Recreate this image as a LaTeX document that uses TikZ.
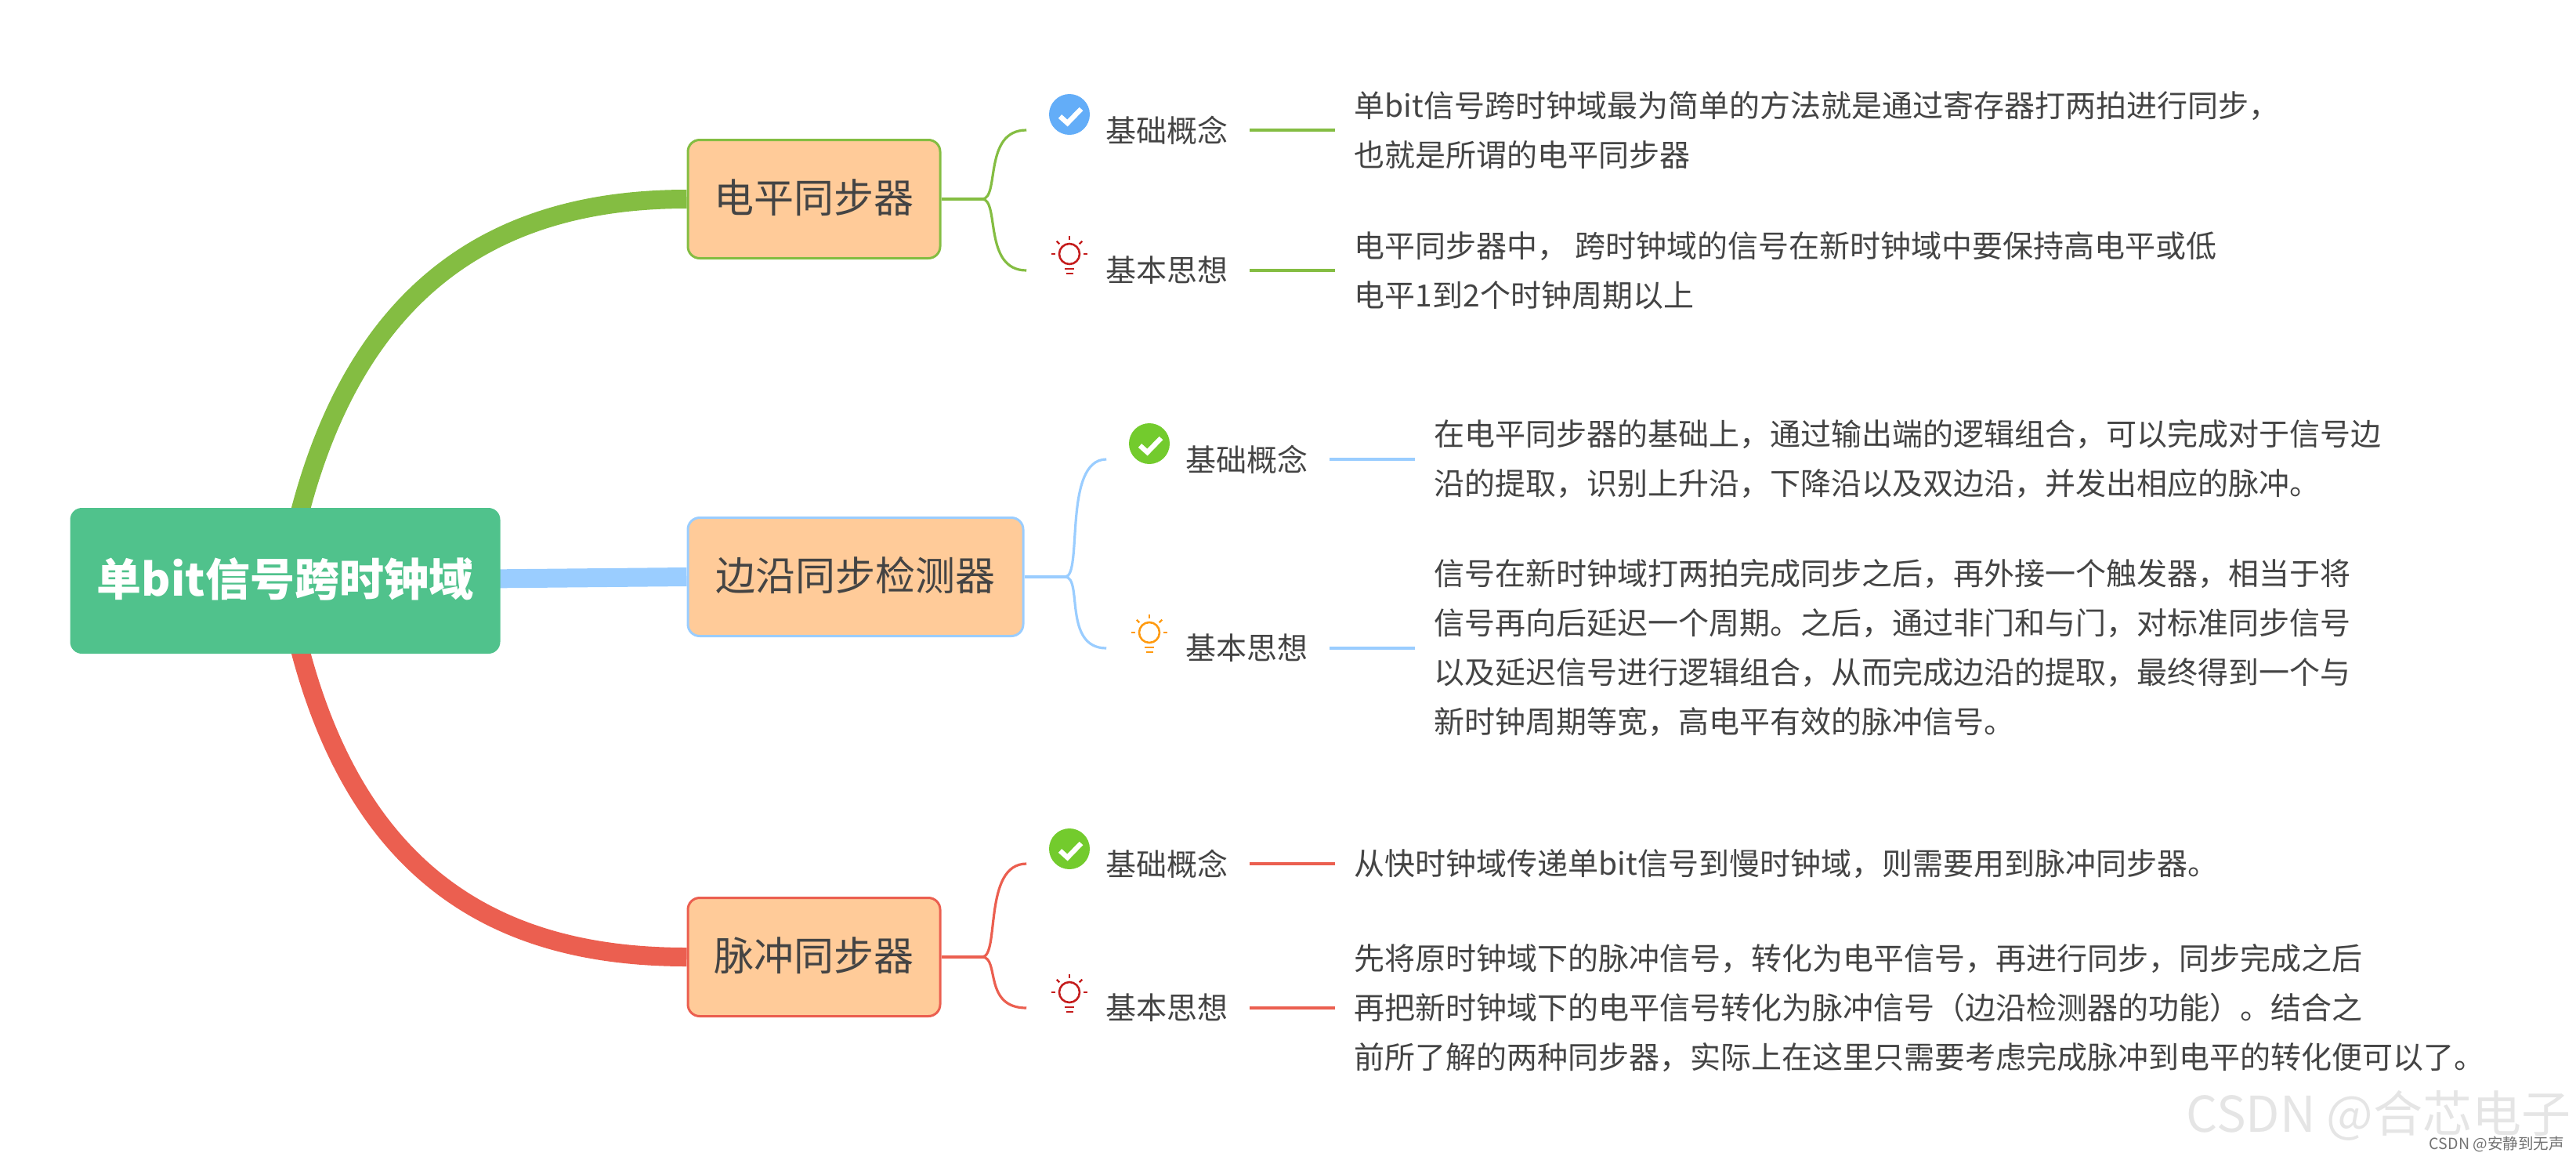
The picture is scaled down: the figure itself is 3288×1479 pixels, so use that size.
\documentclass[tikz,border=0pt]{standalone}
\usepackage{fontspec}
\setmainfont{Noto Sans CJK SC}
\usetikzlibrary{backgrounds}
\definecolor{rootgreen}{HTML}{50C28C}
\definecolor{boxfill}{HTML}{FFCB99}
\definecolor{txtgray}{HTML}{444444}
\definecolor{brgreen}{HTML}{84BD42}
\definecolor{brblue}{HTML}{9ACDFF}
\definecolor{brred}{HTML}{EB5F50}
\definecolor{chkblue}{HTML}{63ADF8}
\definecolor{chkgreen}{HTML}{73CB2D}
\definecolor{bulbred}{HTML}{C41C1C}
\definecolor{bulborange}{HTML}{FF9A0F}
\tikzset{
	rootbox/.style={fill=rootgreen,rounded corners=3.75pt,minimum width=137.25pt,minimum height=46.5pt,
		text height=10.8pt,text depth=1pt,text=white,font=\fontsize{14.25}{17}\selectfont\bfseries},
	subbox/.style={fill=boxfill,rounded corners=3.75pt,line width=.75pt,minimum height=37.75pt,
		text height=9.7pt,text depth=1pt,text=txtgray,font=\fontsize{12.75}{15}\selectfont},
	lbl/.style={text=txtgray,inner xsep=6.75pt,inner ysep=0pt,font=\fontsize{9.75}{12}\selectfont},
	body/.style={anchor=west,align=left,text=txtgray,inner xsep=6pt,inner ysep=0pt,font=\fontsize{9.75}{15.75}\selectfont},
	chkicon/.pic={
		\fill[pic actions] (0,0) circle (26);
		\draw[white,line width=1.6pt] (-12,2.5) -- (-2.5,11) -- (15,-7);
	},
	bulbicon/.pic={
		\draw[pic actions,line width=.65pt] (0,0) circle (13);
		\foreach \a in {0,-45,-90,-135,180} \draw[pic actions,line width=.6pt] (\a:18) -- (\a:23);
		\draw[pic actions,line width=.6pt] (-6,19) -- (6,19);
		\draw[pic actions,line width=.6pt] (-4.5,25) -- (4.5,25);
	},
}
\begin{document}
\begin{tikzpicture}[x=0.25pt,y=-0.25pt]
	\useasboundingbox (0,0) rectangle (3288,1479);
	% main boxes
	\node[rootbox] (root) at (364,741) {单bit信号跨时钟域};
	\node[subbox,draw=brgreen,minimum width=80.5pt] (boxA) at (1039,254) {电平同步器};
	\node[subbox,draw=brblue,minimum width=107pt] (boxB) at (1092,736) {边沿同步检测器};
	\node[subbox,draw=brred,minimum width=80.5pt] (boxC) at (1039,1221) {脉冲同步器};
	% labels
	\node[lbl] (labAa) at (1489,166) {基础概念};
	\node[lbl] (labAb) at (1489,345) {基本思想};
	\node[lbl] (labBa) at (1591,586) {基础概念};
	\node[lbl] (labBb) at (1591,827) {基本思想};
	\node[lbl] (labCa) at (1489,1102) {基础概念};
	\node[lbl] (labCb) at (1489,1286) {基本思想};
	% texts
	\node[body] (txtAa) at (1704,166) {单bit信号跨时钟域最为简单的方法就是通过寄存器打两拍进行同步，\\也就是所谓的电平同步器};
	\node[body] (txtAb) at (1704,345) {电平同步器中， 跨时钟域的信号在新时钟域中要保持高电平或低\\电平1到2个时钟周期以上};
	\node[body] (txtBa) at (1806,586) {在电平同步器的基础上，通过输出端的逻辑组合，可以完成对于信号边\\沿的提取，识别上升沿，下降沿以及双边沿，并发出相应的脉冲。};
	\node[body] (txtBb) at (1806,827) {信号在新时钟域打两拍完成同步之后，再外接一个触发器，相当于将\\信号再向后延迟一个周期。之后，通过非门和与门，对标准同步信号\\以及延迟信号进行逻辑组合，从而完成边沿的提取，最终得到一个与\\新时钟周期等宽，高电平有效的脉冲信号。};
	\node[body] (txtCa) at (1704,1102) {从快时钟域传递单bit信号到慢时钟域，则需要用到脉冲同步器。};
	\node[body] (txtCb) at (1704,1286) {先将原时钟域下的脉冲信号，转化为电平信号，再进行同步，同步完成之后\\再把新时钟域下的电平信号转化为脉冲信号（边沿检测器的功能）。结合之\\前所了解的两种同步器，实际上在这里只需要考虑完成脉冲到电平的转化便可以了。};
	% thick branches
	\begin{scope}[on background layer]
		\draw[brgreen,line width=6pt] (root.center) .. controls +(66,-381) and +(-238,0) .. (boxA.west);
		\draw[brblue,line width=6pt] (root.center) -- (boxB.west);
		\draw[brred,line width=6pt] (root.center) .. controls +(66,381) and +(-238,0) .. (boxC.west);
	\end{scope}
	% brackets and label lines
	\foreach \bx/\colr in {A/brgreen,B/brblue,C/brred} {
		\coordinate (j\bx) at ([xshift=13pt]box\bx.east);
		\draw[\colr,line width=.8pt] (box\bx.east) -- (j\bx);
		\foreach \lb in {a,b} {
			\coordinate (end\bx\lb) at ([xshift=-18.25pt]lab\bx\lb.west);
			\draw[\colr,line width=.8pt] (j\bx) .. controls +(23,0) and +(-56,0) .. (end\bx\lb);
			\draw[\colr,line width=.8pt] (lab\bx\lb.east) -- (txt\bx\lb.west);
		}
	}
	% icons
	\pic[fill=chkblue] at (1365,146) {chkicon};
	\pic[draw=bulbred] at (1365,324) {bulbicon};
	\pic[fill=chkgreen] at (1467,566) {chkicon};
	\pic[draw=bulborange] at (1467,807) {bulbicon};
	\pic[fill=chkgreen] at (1365,1083) {chkicon};
	\pic[draw=bulbred] at (1365,1266) {bulbicon};
	% watermark
	\node[text=black!10,inner sep=0pt,font=\fontsize{15.75}{18}\selectfont] (wmA) at (3036,1423) {CSDN @合芯电子};
	\node[text=black!55,inner sep=0pt,font=\fontsize{4.9}{6}\selectfont] (wmB) at (3187,1460) {CSDN @安静到无声};
\end{tikzpicture}
\end{document}
